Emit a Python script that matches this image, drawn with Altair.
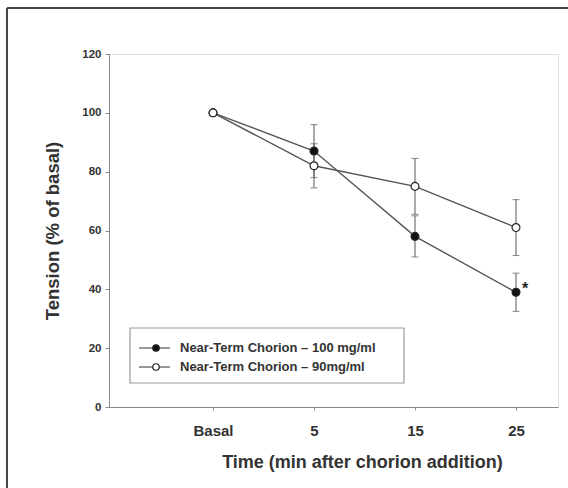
import altair as alt
import pandas as pd

# ---- data ----
categories = ["Basal", "5", "15", "25"]
series_names = ["Near-Term Chorion – 100 mg/ml", "Near-Term Chorion – 90mg/ml"]
mean_100 = [100, 87, 58, 39]
err_100 = [0, 9, 7, 6.5]
mean_90 = [100, 82, 75, 61]
err_90 = [0, 7.5, 9.5, 9.5]
sig_100 = ["", "", "", "*"]
y_ticks = [0, 20, 40, 60, 80, 100, 120]

rows = []
for s, means, errs, sigs in [(series_names[0], mean_100, err_100, sig_100),
                             (series_names[1], mean_90, err_90, ["", "", "", ""])]:
    for i, (m, e, g) in enumerate(zip(means, errs, sigs)):
        rows.append({"idx": i, "cat": categories[i], "series": s, "mean": m,
                     "lo": m - e, "hi": m + e, "err": e, "sig": g})
df = pd.DataFrame(rows)

label_expr = "[" + ",".join("'%s'" % c for c in categories) + "][datum.value]"

FONT = "Liberation Sans"
LINE = "#555555"
AX = "#8a8a8a"
TXT = "#333333"

xs = alt.Scale(domain=[-1.03, 3.416], nice=False, zero=False)
ys = alt.Scale(domain=[0, 120], nice=False, zero=False)

x_axis = alt.Axis(values=[0, 1, 2, 3], labelExpr=label_expr, grid=False,
                  domainColor=AX, tickColor=AX, tickSize=3, labelPadding=13,
                  labelFontSize=15, labelFontWeight="bold", labelColor=TXT,
                  title="Time (min after chorion addition)", titleFontSize=18,
                  titleFontWeight="bold", titleColor=TXT, titlePadding=15,
                  titleX=253)
y_axis = alt.Axis(values=y_ticks, grid=False, domainColor=AX, tickColor=AX,
                  tickSize=4, labelPadding=4, labelFontSize=11.5,
                  labelFontWeight="bold", labelColor=TXT,
                  title="Tension (% of basal)", titleFontSize=18.5,
                  titleFontWeight="bold", titleColor=TXT, titlePadding=19)

base = alt.Chart(df)

lines = base.mark_line(color=LINE, strokeWidth=1.4).encode(
    x=alt.X("idx:Q", scale=xs, axis=x_axis),
    y=alt.Y("mean:Q", scale=ys, axis=y_axis),
    detail="series:N",
)

eb = base.transform_filter("datum.err > 0")
err_rule = eb.mark_rule(color="#666666", strokeWidth=1.1).encode(
    x=alt.X("idx:Q", scale=xs), y=alt.Y("lo:Q", scale=ys), y2="hi:Q")
cap_lo = eb.mark_tick(orient="horizontal", color="#666666", size=7, thickness=1.1).encode(
    x=alt.X("idx:Q", scale=xs), y=alt.Y("lo:Q", scale=ys))
cap_hi = eb.mark_tick(orient="horizontal", color="#666666", size=7, thickness=1.1).encode(
    x=alt.X("idx:Q", scale=xs), y=alt.Y("hi:Q", scale=ys))

points = base.mark_point(shape="circle", size=62, opacity=1, strokeWidth=1.2,
                         stroke="#222222", filled=False).encode(
    x=alt.X("idx:Q", scale=xs),
    y=alt.Y("mean:Q", scale=ys),
    fill=alt.Fill("series:N", scale=alt.Scale(domain=series_names,
                                              range=["#111111", "#ffffff"]),
                  legend=None),
)

stars = base.transform_filter("datum.sig != ''").mark_text(
    font=FONT, fontSize=16, fontWeight="bold", color="#222222",
    align="left", baseline="middle", dx=6, dy=-3).encode(
    x=alt.X("idx:Q", scale=xs), y=alt.Y("mean:Q", scale=ys), text="sig:N")

# ---- manual legend (decoration) ----
one = pd.DataFrame({"k": [0]})
legend_layers = [
    alt.Chart(one).mark_rect(fill="white", stroke="#999999", strokeWidth=1.2).encode(
        x=alt.value(21), x2=alt.value(295), y=alt.value(274), y2=alt.value(329))
]
fills = ["#111111", "#ffffff"]
for r, name in enumerate(series_names):
    yy = 294 + 19 * r
    d = pd.DataFrame({"label": [name]})
    legend_layers.append(alt.Chart(d).mark_rule(color=LINE, strokeWidth=1.2).encode(
        x=alt.value(30), x2=alt.value(61), y=alt.value(yy)))
    legend_layers.append(alt.Chart(d).mark_point(
        shape="circle", size=42, opacity=1, filled=False, fill=fills[r],
        stroke="#222222", strokeWidth=1.2).encode(x=alt.value(47), y=alt.value(yy)))
    legend_layers.append(alt.Chart(d).mark_text(
        font=FONT, fontSize=13, fontWeight="bold", color=TXT, align="left",
        baseline="middle").encode(x=alt.value(71), y=alt.value(yy), text="label:N"))

# ---- outer frame (top and left only) ----
frame = [
    alt.Chart(one).mark_rule(color="#444444", strokeWidth=2).encode(
        x=alt.value(-102), x2=alt.value(460), y=alt.value(-46)),
    alt.Chart(one).mark_rule(color="#444444", strokeWidth=2).encode(
        x=alt.value(-102), y=alt.value(-46), y2=alt.value(440)),
]

chart = alt.layer(lines, err_rule, cap_lo, cap_hi, points, stars,
                  *legend_layers, *frame).properties(
    width=449, height=353,
    autosize=alt.AutoSizeParams(type="none"),
    padding={"left": 109, "top": 54, "right": 10, "bottom": 81},
).configure_view(stroke=None).configure(font=FONT, background="white")

chart.save("out.html", embed_options={"renderer": "svg", "actions": False})
